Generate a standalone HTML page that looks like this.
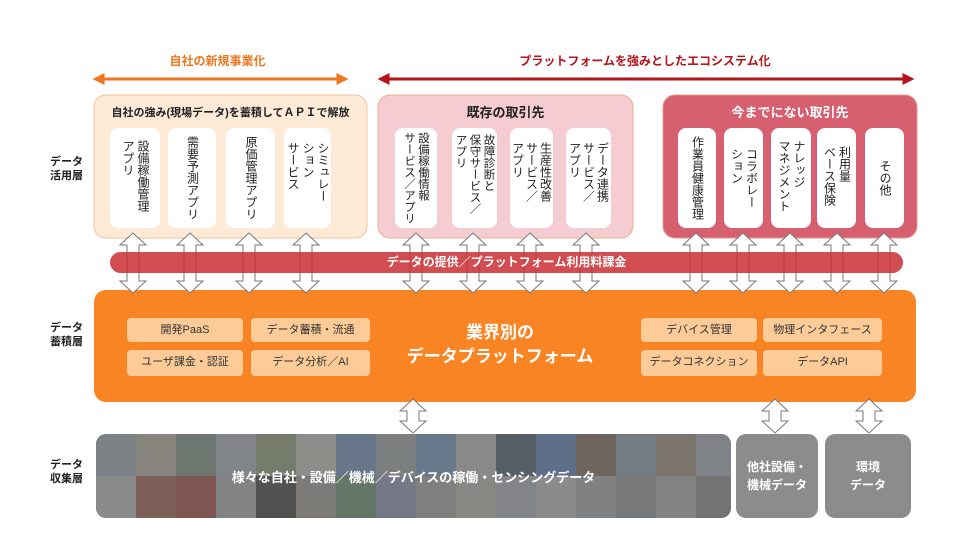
<!DOCTYPE html>
<html><head><meta charset="utf-8"><style>
*{margin:0;padding:0;box-sizing:border-box}
body{width:960px;height:540px;background:#fff;position:relative;overflow:hidden;font-family:"Liberation Sans","Noto Sans CJK JP",sans-serif}
.a{position:absolute}
.card{position:absolute;background:#fff;border-radius:8px;writing-mode:vertical-rl;font-size:12px;line-height:15px;color:#222;padding-top:8px;display:flex;align-items:center;justify-content:flex-start;letter-spacing:0}
.sb{position:absolute;background:#fccb98;border-radius:4px;font-size:11px;color:#333;text-align:center;line-height:24px}
.lbl{position:absolute;font-size:11px;font-weight:bold;color:#222;line-height:14px}
</style></head><body>
<svg class="a" style="left:0;top:0" width="960" height="540">
<defs>
<marker id="mo" viewBox="0 0 10 10" refX="8" refY="5" markerWidth="4" markerHeight="4" orient="auto-start-reverse"><path d="M0,0L10,5L0,10z" fill="#ef7620"/></marker>
<marker id="mr" viewBox="0 0 10 10" refX="8" refY="5" markerWidth="4" markerHeight="4" orient="auto-start-reverse"><path d="M0,0L10,5L0,10z" fill="#b5141b"/></marker>
<clipPath id="pc"><rect x="96" y="434" width="635" height="84" rx="10"/></clipPath>
</defs>
<line x1="95" y1="79" x2="346" y2="79" stroke="#ef7620" stroke-width="3" marker-start="url(#mo)" marker-end="url(#mo)"/>
<line x1="380" y1="79" x2="912" y2="79" stroke="#b5141b" stroke-width="3" marker-start="url(#mr)" marker-end="url(#mr)"/>
<rect x="94" y="95" width="273" height="143" rx="12" fill="#fdebd8" stroke="#f2c196"/>
<rect x="378" y="95" width="255" height="143" rx="12" fill="#f4ccd2" stroke="#eab08a"/>
<rect x="663" y="95" width="254" height="143" rx="12" fill="#d6606f" stroke="#e39a8a"/>
<rect x="94" y="290" width="822" height="112" rx="12" fill="#f98423"/>
<g clip-path="url(#pc)">
<rect x="96" y="434" width="635" height="84" fill="#8a8a8a"/>
<g opacity="0.8">
<rect x="96" y="434" width="40" height="42" fill="#9aa6ae"/><rect x="136" y="434" width="40" height="42" fill="#b0a89c"/><rect x="176" y="434" width="40" height="42" fill="#7c8c80"/><rect x="216" y="434" width="40" height="42" fill="#a3aab2"/><rect x="256" y="434" width="40" height="42" fill="#8b9a78"/><rect x="296" y="434" width="40" height="42" fill="#c0bdb5"/><rect x="336" y="434" width="40" height="42" fill="#6f8fb5"/><rect x="376" y="434" width="40" height="42" fill="#9aa0a0"/><rect x="416" y="434" width="40" height="42" fill="#6e93b8"/><rect x="456" y="434" width="40" height="42" fill="#b5b5b0"/><rect x="496" y="434" width="40" height="42" fill="#4a5a6a"/><rect x="536" y="434" width="40" height="42" fill="#5a7fb0"/><rect x="576" y="434" width="40" height="42" fill="#7a6a5a"/><rect x="616" y="434" width="40" height="42" fill="#8898a8"/><rect x="656" y="434" width="40" height="42" fill="#9a8a7a"/><rect x="696" y="434" width="40" height="42" fill="#a0a8b0"/>
<rect x="96" y="476" width="40" height="42" fill="#b8b8b8"/><rect x="136" y="476" width="40" height="42" fill="#a06050"/><rect x="176" y="476" width="40" height="42" fill="#a04a40"/><rect x="216" y="476" width="40" height="42" fill="#a8a8a8"/><rect x="256" y="476" width="40" height="42" fill="#404040"/><rect x="296" y="476" width="40" height="42" fill="#9a9890"/><rect x="336" y="476" width="40" height="42" fill="#6a8a70"/><rect x="376" y="476" width="40" height="42" fill="#8a90b0"/><rect x="416" y="476" width="40" height="42" fill="#a0a0a0"/><rect x="456" y="476" width="40" height="42" fill="#b0b0a8"/><rect x="496" y="476" width="40" height="42" fill="#a8aab0"/><rect x="536" y="476" width="40" height="42" fill="#b8b8b8"/><rect x="576" y="476" width="40" height="42" fill="#a0a4a8"/><rect x="616" y="476" width="40" height="42" fill="#909498"/><rect x="656" y="476" width="40" height="42" fill="#a8a8a8"/><rect x="696" y="476" width="40" height="42" fill="#888"/>
</g>
<rect x="96" y="434" width="635" height="84" fill="#555" opacity="0.4"/>
</g>
<rect x="736" y="434" width="82" height="84" rx="10" fill="#8c8c8c"/>
<rect x="825" y="434" width="86" height="84" rx="10" fill="#8c8c8c"/>
<g fill="#fff" stroke="#777" stroke-width="1">
<path id="ar" d="M0,-30L13,-18L6,-18L6,18L13,18L0,30L-13,18L-6,18L-6,-18L-13,-18Z" transform="translate(133,263)"/>
<use href="#ar" x="57"/><use href="#ar" x="116"/><use href="#ar" x="173"/>
<use href="#ar" x="283"/><use href="#ar" x="340"/><use href="#ar" x="397"/><use href="#ar" x="453"/>
<use href="#ar" x="563"/><use href="#ar" x="610"/><use href="#ar" x="657"/><use href="#ar" x="704"/><use href="#ar" x="751"/>
<path d="M0,-17L13,-5L6,-5L6,5L13,5L0,17L-13,5L-6,5L-6,-5L-13,-5Z" transform="translate(413,416)"/>
<path d="M0,-17L13,-5L6,-5L6,5L13,5L0,17L-13,5L-6,5L-6,-5L-13,-5Z" transform="translate(775,416)"/>
<path d="M0,-17L13,-5L6,-5L6,5L13,5L0,17L-13,5L-6,5L-6,-5L-13,-5Z" transform="translate(869,416)"/>
</g>
<rect x="110" y="252" width="793" height="21" rx="10.5" fill="#c92e33" opacity="0.85"/>
</svg>
<div class="a" style="left:150px;top:52px;width:135px;text-align:center;color:#ef7620;font-size:12px;font-weight:bold">自社の新規事業化</div>
<div class="a" style="left:480px;top:52px;width:330px;text-align:center;color:#b5141b;font-size:12px;font-weight:bold">プラットフォームを強みとしたエコシステム化</div>
<div class="lbl" style="left:50px;top:155px">データ<br>活用層</div>
<div class="lbl" style="left:50px;top:321px">データ<br>蓄積層</div>
<div class="lbl" style="left:50px;top:458px">データ<br>収集層</div>
<div class="a" style="left:94px;top:104px;width:273px;text-align:center;font-size:11px;font-weight:bold;color:#222">自社の強み(現場データ)を蓄積してＡＰＩで解放</div>
<div class="a" style="left:378px;top:102px;width:255px;text-align:center;font-size:13px;font-weight:bold;color:#222">既存の取引先</div>
<div class="a" style="left:663px;top:102px;width:254px;text-align:center;font-size:13px;font-weight:bold;color:#fff">今までにない取引先</div>
<div class="card" style="left:110px;top:128px;width:50px;height:100px;padding-top:12px">設備稼働管理<br>アプリ</div>
<div class="card" style="left:168px;top:128px;width:48px;height:100px">需要予測アプリ</div>
<div class="card" style="left:226px;top:128px;width:49px;height:100px">原価管理アプリ</div>
<div class="card" style="left:284px;top:128px;width:47px;height:100px;padding-top:14px">シミュレー<br>ション<br>サービス</div>
<div class="card" style="left:395px;top:128px;width:42px;height:100px;padding-top:4px;font-size:11.5px;line-height:14px">設備稼働情報<br>サービス／アプリ</div>
<div class="card" style="left:452px;top:128px;width:45px;height:100px;padding-top:6px;font-size:11.5px;line-height:14px">故障診断と<br>保守サービス／<br>アプリ</div>
<div class="card" style="left:510px;top:128px;width:43px;height:100px;padding-top:14px;line-height:14px">生産性改善<br>サービス／<br>アプリ</div>
<div class="card" style="left:566px;top:128px;width:45px;height:100px;padding-top:14px;line-height:14px">データ連携<br>サービス／<br>アプリ</div>
<div class="card" style="left:678px;top:128px;width:38px;height:100px">作業員健康管理</div>
<div class="card" style="left:724px;top:128px;width:39px;height:100px;padding-top:20px">コラボレー<br>ション</div>
<div class="card" style="left:771px;top:128px;width:40px;height:100px;padding-top:12px">ナレッジ<br>マネジメント</div>
<div class="card" style="left:817px;top:128px;width:39px;height:100px;padding-top:18px">利用量<br>ベース保険</div>
<div class="card" style="left:865px;top:128px;width:39px;height:100px;padding-top:32px">その他</div>
<div class="a" style="left:110px;top:255px;width:793px;text-align:center;font-size:12px;font-weight:bold;color:#fff;line-height:15px">データの提供／プラットフォーム利用料課金</div>
<div class="a" style="left:390px;top:321px;width:220px;text-align:center;font-size:17px;font-weight:bold;color:#fff;line-height:24px">業界別の<br>データプラットフォーム</div>
<div class="sb" style="left:127px;top:318px;width:116px;height:24px">開発PaaS</div>
<div class="sb" style="left:251px;top:318px;width:119px;height:24px">データ蓄積・流通</div>
<div class="sb" style="left:127px;top:350px;width:116px;height:26px">ユーザ課金・認証</div>
<div class="sb" style="left:251px;top:350px;width:119px;height:26px">データ分析／AI</div>
<div class="sb" style="left:641px;top:318px;width:116px;height:24px">デバイス管理</div>
<div class="sb" style="left:763px;top:318px;width:119px;height:24px">物理インタフェース</div>
<div class="sb" style="left:641px;top:350px;width:116px;height:26px">データコネクション</div>
<div class="sb" style="left:763px;top:350px;width:119px;height:26px">データAPI</div>
<div class="a" style="left:96px;top:467px;width:635px;text-align:center;font-size:13px;font-weight:bold;color:#fff">様々な自社・設備／機械／デバイスの稼働・センシングデータ</div>
<div class="a" style="left:736px;top:458px;width:82px;text-align:center;font-size:12px;font-weight:bold;color:#fff;line-height:18px">他社設備・<br>機械データ</div>
<div class="a" style="left:825px;top:458px;width:86px;text-align:center;font-size:12px;font-weight:bold;color:#fff;line-height:18px">環境<br>データ</div>
</body></html>
